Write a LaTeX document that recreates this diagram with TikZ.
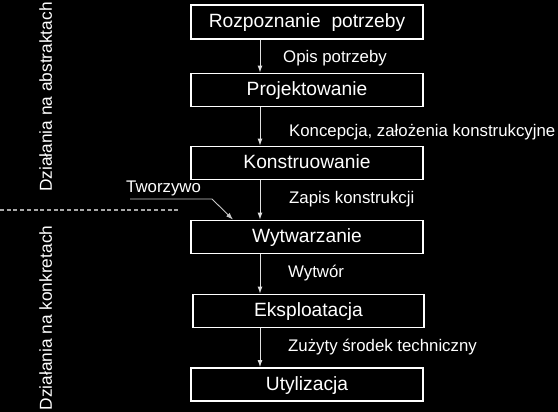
\documentclass[tikz,border=0pt]{standalone}
\usepackage{fontspec}
\setmainfont{Liberation Sans}
\usetikzlibrary{arrows.meta}
\definecolor{conn}{HTML}{E0E0E0}
\definecolor{dashc}{HTML}{A8A8A8}
\definecolor{twc}{HTML}{C8C8C8}
\begin{document}
\begin{tikzpicture}[x=1pt,y=-1pt,
  stagebox/.style={draw=white, line width=1.8pt, fill=black, text=white,
    minimum width=232pt, minimum height=33pt, inner sep=0pt,
    font=\fontsize{19.2}{22}\selectfont, text height=14pt, text depth=3pt},
  flowlabel/.style={text=white, inner sep=0pt, anchor=base west,
    font=\fontsize{16.8}{19}\selectfont},
  sidelabel/.style={text=white, inner sep=0pt, rotate=90, anchor=base,
    font=\fontsize{17.3}{20}\selectfont},
  flowarrow/.style={draw=conn, line width=1pt, -{Latex[length=7pt,width=5pt]}},
  feedline/.style={draw=twc, line width=0.9pt, -{Latex[length=7pt,width=5pt]}},
  sepline/.style={draw=dashc, line width=1.3pt, dash pattern=on 4pt off 2.7pt}]
\fill[black] (0,0) rectangle (558,412);
\useasboundingbox (0,0) rectangle (558,412);

\node[stagebox, minimum height=34pt] (b1) at (307,22) {Rozpoznanie\ \ potrzeby};
\node[stagebox] (b2) at (307,90) {Projektowanie};
\node[stagebox] (b3) at (307,163) {Konstruowanie};
\node[stagebox] (b4) at (307,237) {Wytwarzanie};
\node[stagebox, minimum width=231pt] (b5) at (308.5,311) {Eksploatacja};
\node[stagebox] (b6) at (307,384.5) {Utylizacja};

\coordinate (ax) at (260,0);
\draw[flowarrow] (b1.south -| ax) -- (b2.north -| ax);
\draw[flowarrow] (b2.south -| ax) -- (b3.north -| ax);
\draw[flowarrow] (b3.south -| ax) -- (b4.north -| ax);
\draw[flowarrow] (b4.south -| ax) -- (b5.north -| ax);
\draw[flowarrow] (b5.south -| ax) -- (b6.north -| ax);

\node[flowlabel] (l1) at (283,63) {Opis potrzeby};
\node[flowlabel] (l2) at (289,137) {Koncepcja, założenia konstrukcyjne};
\node[flowlabel] (l3) at (289,204) {Zapis konstrukcji};
\node[flowlabel] (l4) at (288,277) {Wytwór};
\node[flowlabel] (l5) at (288,351) {Zużyty środek techniczny};

\node[flowlabel] (tw) at (126,193) {Tworzywo};
\coordinate (tw1) at (130,199);
\coordinate (tw2) at (212,199);
\coordinate (twx) at (233,0);
\draw[feedline] (tw1) -- (tw2) -- (b4.north -| twx);

\coordinate (d1) at (0,210);
\coordinate (d2) at (180,210);
\draw[sepline] (d1) -- (d2);

\node[sidelabel] (s1) at (52,97) {Działania na abstraktach};
\node[sidelabel] (s2) at (52,318) {Działania na konkretach};
\end{tikzpicture}
\end{document}
